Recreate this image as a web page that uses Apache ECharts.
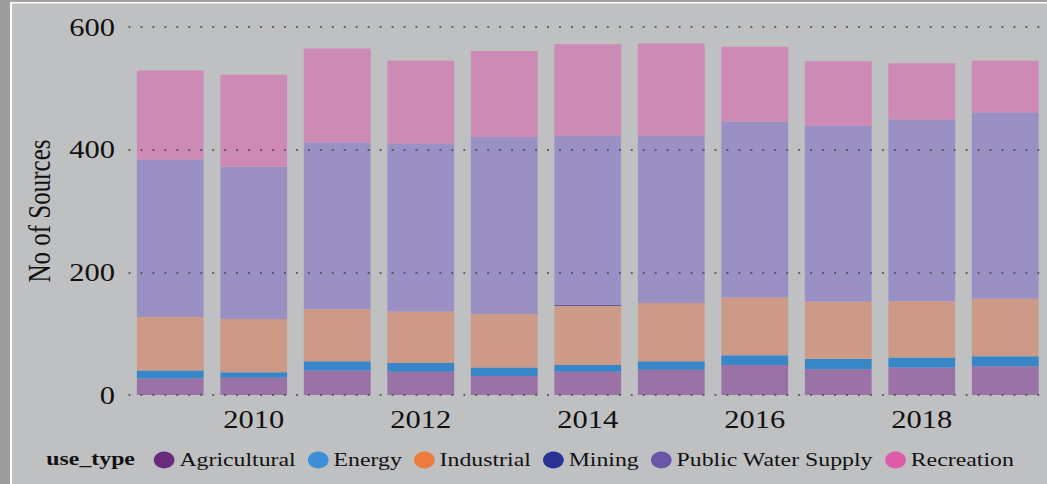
<!DOCTYPE html>
<html>
<head>
<meta charset="utf-8">
<script src="https://cdn.jsdelivr.net/npm/echarts@6/dist/echarts.min.js"></script>
<style>
  html, body { margin: 0; padding: 0; background: #bfc0c2; overflow: hidden; }
  /* the source picture is stretched sideways, so the chart is drawn narrow and scaled */
  #chart { width: 858px; height: 484px; transform: scaleX(1.2203); transform-origin: 0 0; }
</style>
</head>
<body>
<div id="chart"></div>
<script>
const years = ["2009", "2010", "2011", "2012", "2013", "2014", "2015", "2016", "2017", "2018", "2019"];
const agricultural = [27, 28, 40, 38, 31, 38, 41, 49, 42, 45, 47];
const energy = [13, 9, 15, 14, 14, 11, 14, 16, 17, 16, 16];
const industrial = [87, 87, 85, 84, 87, 96, 95, 94, 93, 92, 94];
const mining = [0, 0, 0, 0, 0, 2, 0, 0, 0, 0, 0];
const publicWater = [257, 248, 272, 274, 289, 276, 273, 287, 287, 296, 304];
const recreation = [145, 150, 153, 135, 140, 149, 150, 122, 105, 92, 84];
const yTicks = [0, 200, 400, 600];

const font = "Liberation Serif";
const W = 858;

const myChart = echarts.init(document.getElementById("chart"), null, { renderer: "svg" });

const seriesDefs = [
  { name: "Agricultural", data: agricultural, bar: "#9b72a6", legend: "#6a2b7d" },
  { name: "Energy", data: energy, bar: "#3786c8", legend: "#3d8fd7" },
  { name: "Industrial", data: industrial, bar: "#cc9a86", legend: "#ee7b3e" },
  { name: "Mining", data: mining, bar: "#5c5aa0", legend: "#2b3192" },
  { name: "Public Water Supply", data: publicWater, bar: "#9b90c4", legend: "#6b55a7" },
  { name: "Recreation", data: recreation, bar: "#cc8ab5", legend: "#dd5ca9" },
];

const option = {
  animation: false,
  backgroundColor: "#bfc0c2",
  textStyle: { fontFamily: font, color: "#111" },
  title: {
    text: "use_type",
    left: 38,
    top: 449,
    padding: 0,
    textStyle: { fontFamily: font, fontWeight: "bold", fontSize: 19.5, color: "#111" },
  },
  legend: {
    left: 126,
    top: 450,
    padding: 0,
    icon: "circle",
    itemWidth: 17,
    itemHeight: 17,
    itemGap: 10,
    textStyle: { fontFamily: font, fontSize: 19.5, color: "#111", padding: [0, 0, 0, -1] },
    data: seriesDefs.map((s) => ({ name: s.name, itemStyle: { color: s.legend } })),
  },
  grid: { left: 105.3, top: 27, width: 759, height: 368 },
  xAxis: {
    type: "category",
    data: years,
    axisLine: { show: false },
    axisTick: { show: false },
    axisLabel: {
      interval: (idx) => idx % 2 === 1,
      margin: 12,
      fontFamily: font,
      fontSize: 25,
      color: "#111",
    },
  },
  yAxis: {
    type: "value",
    min: yTicks[0],
    max: yTicks[yTicks.length - 1],
    interval: 200,
    z: 10,
    name: "No of Sources",
    nameLocation: "middle",
    nameGap: 60,
    nameTextStyle: { fontFamily: font, fontSize: 25, color: "#111" },
    axisLine: { show: false },
    axisTick: { show: false },
    axisLabel: { margin: 11, fontFamily: font, fontSize: 25, color: "#111" },
    splitLine: {
      show: true,
      lineStyle: { color: "#444", width: 1.6, type: [1.6, 8.2] },
    },
  },
  series: seriesDefs.map((s) => ({
    name: s.name,
    type: "bar",
    stack: "total",
    barCategoryGap: "20%",
    data: s.data,
    itemStyle: { color: s.bar },
    emphasis: { disabled: true },
  })),
  graphic: [
    { type: "rect", shape: { x: 0, y: 0, width: W, height: 2 }, style: { fill: "#a2a2a2" }, z: 100 },
    { type: "rect", shape: { x: 0, y: 0, width: 8.2, height: 484 }, style: { fill: "#9d9d9d" }, z: 100 },
    { type: "rect", shape: { x: 8.2, y: 2, width: W, height: 1.5 }, style: { fill: "#ffffff" }, z: 100 },
    { type: "rect", shape: { x: 8.2, y: 2, width: 1.6, height: 484 }, style: { fill: "#ffffff" }, z: 100 },
  ],
};

myChart.setOption(option);
</script>
</body>
</html>
